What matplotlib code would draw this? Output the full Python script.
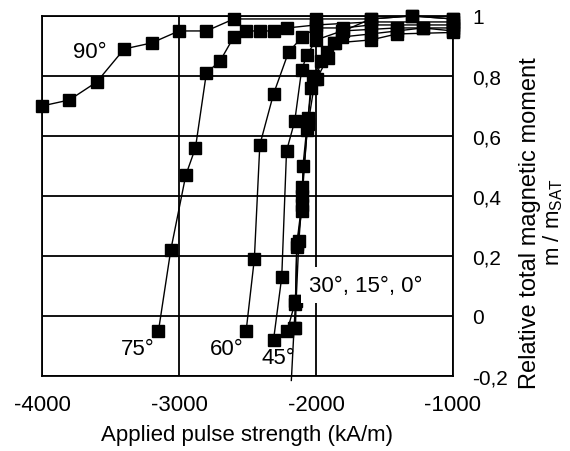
import matplotlib
matplotlib.use("Agg")
import matplotlib.pyplot as plt

plt.rcParams['font.family'] = ['Liberation Sans', 'DejaVu Sans']
plt.rcParams['mathtext.fontset'] = 'custom'
plt.rcParams['mathtext.rm'] = 'Liberation Sans'

# pulse field (kA/m) and relative moment m/m_sat for each angle
x90 = [-4000, -3800, -3600, -3400, -3200, -3000, -2800, -2600, -2000, -1600, -1300, -1000]
y90 = [0.70, 0.72, 0.78, 0.89, 0.91, 0.95, 0.95, 0.99, 0.99, 0.99, 1.0, 0.99]

x75 = [-3150, -3060, -2950, -2880, -2800, -2700, -2600, -2510, -2410, -2310, -2210, -2000, -1600, -1000]
y75 = [-0.05, 0.22, 0.47, 0.56, 0.81, 0.85, 0.93, 0.95, 0.95, 0.95, 0.96, 0.97, 0.98, 0.98]

x60 = [-2510, -2450, -2410, -2310, -2200, -2100, -2000, -1800, -1600, -1000]
y60 = [-0.05, 0.19, 0.57, 0.74, 0.88, 0.93, 0.96, 0.96, 0.97, 0.97]

x45 = [-2310, -2250, -2215, -2155, -2105, -2065, -2000, -1810, -1410, -1220, -1000]
y45 = [-0.08, 0.13, 0.55, 0.65, 0.82, 0.87, 0.92, 0.95, 0.96, 0.96, 0.96]

x30 = [-2210, -2150, -2140, -2105, -2065, -2005, -1960, -1870, -1800, -1600, -1300, -1000]
y30 = [-0.05, 0.05, 0.24, 0.37, 0.62, 0.79, 0.85, 0.91, 0.95, 0.99, 1.0, 0.99]

x15 = [-2150, -2145, -2125, -2100, -2095, -2060, -2020, -1920, -1810, -1600, -1410, -1220, -1000]
y15 = [-0.04, 0.05, 0.25, 0.40, 0.50, 0.66, 0.80, 0.88, 0.93, 0.94, 0.95, 0.96, 0.95]

x0 = [-2180, -2160, -2150, -2140, -2105, -2100, -2060, -2040, -1995, -1915, -1860, -1600, -1410, -1000]
y0 = [-0.215, -0.04, 0.04, 0.23, 0.35, 0.43, 0.64, 0.76, 0.79, 0.86, 0.91, 0.92, 0.94, 0.945]

xticks = [-4000, -3000, -2000, -1000]
xtick_labels = ['-4000', '-3000', '-2000', '-1000']
yticks = [-0.2, 0, 0.2, 0.4, 0.6, 0.8, 1]
ytick_labels = ['-0,2', '0', '0,2', '0,4', '0,6', '0,8', '1']

fig = plt.figure(figsize=(5.7, 4.52), dpi=100)
ax = fig.add_axes([0.0737, 0.166, 0.721, 0.7965])

series = [(x90, y90), (x75, y75), (x60, y60), (x45, y45), (x30, y30), (x15, y15)]
for xs, ys in series:
    ax.plot(xs, ys, color='black', lw=1.0, marker='s', ms=8, mfc='black',
            mec='black', clip_on=False, zorder=3)
# 0 deg curve: first point only a line end below the axis
ax.plot(x0, y0, color='black', lw=1.0, marker='s', ms=8, mfc='black',
        mec='black', markevery=list(range(1, len(x0))), clip_on=False, zorder=3)

ax.set_xlim(-4000, -1000)
ax.set_ylim(-0.2, 1)
ax.set_xticks(xticks)
ax.set_xticklabels(xtick_labels, fontsize=16)
ax.set_yticks(yticks)
ax.set_yticklabels(ytick_labels, fontsize=15, ha='left')
ax.yaxis.tick_right()
ax.tick_params(axis='both', length=0)
ax.tick_params(axis='x', pad=13)
ax.tick_params(axis='y', pad=14)
ax.grid(True, color='black', lw=1.3)
ax.set_axisbelow(True)
for s in ax.spines.values():
    s.set_linewidth(1.3)
    s.set_zorder(5)

ax.text(-3650, 0.883, '90°', fontsize=16, ha='center', va='center')
ax.text(-3300, -0.11, '75°', fontsize=16, ha='center', va='center')
ax.text(-2650, -0.11, '60°', fontsize=16, ha='center', va='center')
ax.text(-2277, -0.137, '45°', fontsize=16, ha='center', va='center')
ax.text(-1635, 0.103, '30°, 15°, 0°', fontsize=16, ha='center', va='center',
        bbox=dict(boxstyle='square,pad=0.35', fc='white', ec='none'), zorder=4)

fig.text(0.434, 1 - 436 / 452, 'Applied pulse strength (kA/m)', fontsize=16,
         ha='center', va='center')
fig.text(530 / 570, 1 - 223 / 452, 'Relative total magnetic moment', fontsize=17,
         rotation=90, ha='center', va='center')
fig.text(553 / 570, 1 - 222 / 452, r'm / m$_{\mathregular{SAT}}$', fontsize=16,
         rotation=90, ha='center', va='center')

fig.savefig('out.png', dpi=100)
